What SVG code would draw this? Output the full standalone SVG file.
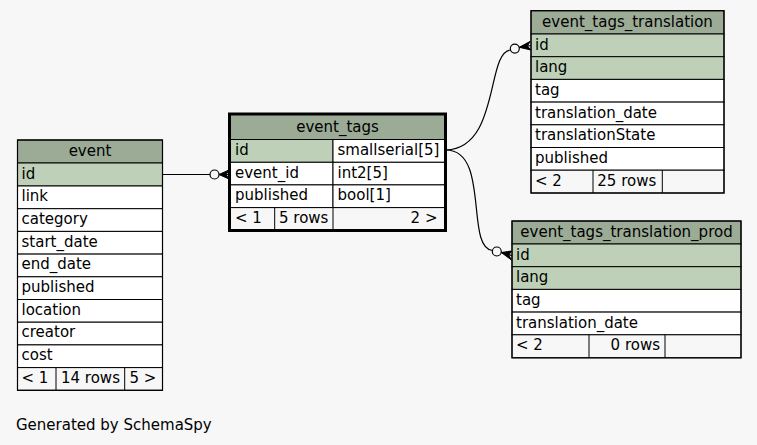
<svg xmlns="http://www.w3.org/2000/svg" width="757" height="445" viewBox="0 0 757 445">
<style>
text{font-family:"DejaVu Sans","Noto Sans",sans-serif;font-size:15px;fill:#000}
.hd{fill:#9bab96;stroke:#000;stroke-width:1}
.pk{fill:#bed1b8;stroke:#000;stroke-width:1}
.row{fill:#fff;stroke:#000;stroke-width:1}
.ft{fill:#f7f7f7;stroke:#000;stroke-width:1}
.out{fill:none;stroke:#000;stroke-width:1.2}
.thick{fill:none;stroke:#000;stroke-width:3}
.c{text-anchor:middle}
.r{text-anchor:end}
.edge{fill:none;stroke:#000;stroke-width:1.2}
.dot{fill:#f7f7f7;stroke:#000;stroke-width:1.2}
.crow{fill:#000;stroke:#000;stroke-width:1}
</style>
<rect width="757" height="445" fill="#f7f7f7"/>

<g id="connectors">
<path class="edge" d="M162.5,174.5 L210,174.5"/>
<circle class="dot" cx="214.5" cy="174.5" r="4.5"/>
<path class="crow" d="M219,174.5 L229,170 L226,174.5 L229,179 Z"/>
<path class="edge" d="M219,174.5 L229,174.5"/>

<path class="edge" d="M446,150 C500,148 486,52 510.5,50"/>
<circle class="dot" cx="514.8" cy="48.6" r="4.5"/>
<path class="crow" d="M519.3,47.3 L530,41.5 L527.5,46 L530.8,50 Z"/>
<path class="edge" d="M519.3,47.3 L531,45.5"/>

<path class="edge" d="M446,150 C490,150 465,248 492.5,250.5"/>
<circle class="dot" cx="496.8" cy="251.5" r="4.5"/>
<path class="crow" d="M501.3,252.5 L511.5,251 L508.8,255 L511.5,260 Z"/>
<path class="edge" d="M501.3,252.5 L512,255.6"/>
</g>

<g id="event">
<rect class="hd" x="17.5" y="140" width="145" height="23"/>
<rect class="pk" x="17.5" y="163" width="145" height="23"/>
<rect class="row" x="17.5" y="186" width="145" height="22.7"/>
<rect class="row" x="17.5" y="208.7" width="145" height="22.7"/>
<rect class="row" x="17.5" y="231.4" width="145" height="22.7"/>
<rect class="row" x="17.5" y="254.1" width="145" height="22.7"/>
<rect class="row" x="17.5" y="276.8" width="145" height="22.7"/>
<rect class="row" x="17.5" y="299.5" width="145" height="22.7"/>
<rect class="row" x="17.5" y="322.2" width="145" height="22.7"/>
<rect class="row" x="17.5" y="344.9" width="145" height="22.7"/>
<rect class="ft" x="17.5" y="367.6" width="145" height="22.7"/>
<line x1="56" y1="367.6" x2="56" y2="390.3" stroke="#000"/>
<line x1="124.7" y1="367.6" x2="124.7" y2="390.3" stroke="#000"/>
<rect class="out" x="17.5" y="140" width="145" height="250.3"/>
<text class="c" x="90" y="156">event</text>
<text x="21.5" y="178.5">id</text>
<text x="21.5" y="201.2">link</text>
<text x="21.5" y="223.9">category</text>
<text x="21.5" y="246.6">start_date</text>
<text x="21.5" y="269.3">end_date</text>
<text x="21.5" y="292">published</text>
<text x="21.5" y="314.7">location</text>
<text x="21.5" y="337.4">creator</text>
<text x="21.5" y="360.1">cost</text>
<text x="21.5" y="382.8">&lt; 1</text>
<text x="61" y="382.8">14 rows</text>
<text x="129.5" y="382.8">5 &gt;</text>
</g>

<g id="event_tags">
<rect class="hd" x="229.5" y="114" width="216" height="25.5"/>
<rect class="pk" x="229.5" y="139.5" width="103.5" height="22.8"/>
<rect class="row" x="333" y="139.5" width="112.5" height="22.8"/>
<rect class="row" x="229.5" y="162.3" width="103.5" height="22.6"/>
<rect class="row" x="333" y="162.3" width="112.5" height="22.6"/>
<rect class="row" x="229.5" y="184.9" width="103.5" height="22.7"/>
<rect class="row" x="333" y="184.9" width="112.5" height="22.7"/>
<rect class="ft" x="229.5" y="207.6" width="216" height="22.9"/>
<line x1="274.7" y1="207.6" x2="274.7" y2="230.5" stroke="#000"/>
<line x1="333" y1="207.6" x2="333" y2="230.5" stroke="#000"/>
<rect class="thick" x="229.5" y="114" width="216" height="116.5"/>
<text class="c" x="337.5" y="132">event_tags</text>
<text x="235" y="155">id</text>
<text x="337.5" y="155">smallserial[5]</text>
<text x="235" y="177.5">event_id</text>
<text x="337.5" y="177.5">int2[5]</text>
<text x="235" y="200.2">published</text>
<text x="337.5" y="200.2">bool[1]</text>
<text x="235" y="223">&lt; 1</text>
<text x="279" y="223">5 rows</text>
<text class="r" x="437.5" y="223">2 &gt;</text>
</g>

<g id="event_tags_translation">
<rect class="hd" x="531" y="10.7" width="193" height="23.3"/>
<rect class="pk" x="531" y="34" width="193" height="22.7"/>
<rect class="pk" x="531" y="56.7" width="193" height="22.7"/>
<rect class="row" x="531" y="79.4" width="193" height="22.7"/>
<rect class="row" x="531" y="102.1" width="193" height="22.7"/>
<rect class="row" x="531" y="124.8" width="193" height="22.7"/>
<rect class="row" x="531" y="147.5" width="193" height="22.7"/>
<rect class="ft" x="531" y="170.2" width="193" height="22.8"/>
<line x1="593" y1="170.2" x2="593" y2="193" stroke="#000"/>
<line x1="662.3" y1="170.2" x2="662.3" y2="193" stroke="#000"/>
<rect class="out" x="531" y="10.7" width="193" height="182.3"/>
<text class="c" x="627.5" y="27">event_tags_translation</text>
<text x="535" y="49.5">id</text>
<text x="535" y="72.2">lang</text>
<text x="535" y="94.9">tag</text>
<text x="535" y="117.6">translation_date</text>
<text x="535" y="140.3">translationState</text>
<text x="535" y="163">published</text>
<text x="535" y="185.7">&lt; 2</text>
<text x="597.3" y="185.7">25 rows</text>
</g>

<g id="event_tags_translation_prod">
<rect class="hd" x="512" y="221" width="229" height="23"/>
<rect class="pk" x="512" y="244" width="229" height="22.7"/>
<rect class="pk" x="512" y="266.7" width="229" height="22.7"/>
<rect class="row" x="512" y="289.4" width="229" height="22.7"/>
<rect class="row" x="512" y="312.1" width="229" height="22.7"/>
<rect class="ft" x="512" y="334.8" width="229" height="23"/>
<line x1="589" y1="334.8" x2="589" y2="357.8" stroke="#000"/>
<line x1="665" y1="334.8" x2="665" y2="357.8" stroke="#000"/>
<rect class="out" x="512" y="221" width="229" height="136.8"/>
<text class="c" x="626.5" y="237">event_tags_translation_prod</text>
<text x="516" y="259.5">id</text>
<text x="516" y="282.2">lang</text>
<text x="516" y="304.9">tag</text>
<text x="516" y="327.6">translation_date</text>
<text x="516" y="350.3">&lt; 2</text>
<text class="r" x="660" y="350.3">0 rows</text>
</g>

<text x="16" y="430">Generated by SchemaSpy</text>
</svg>
